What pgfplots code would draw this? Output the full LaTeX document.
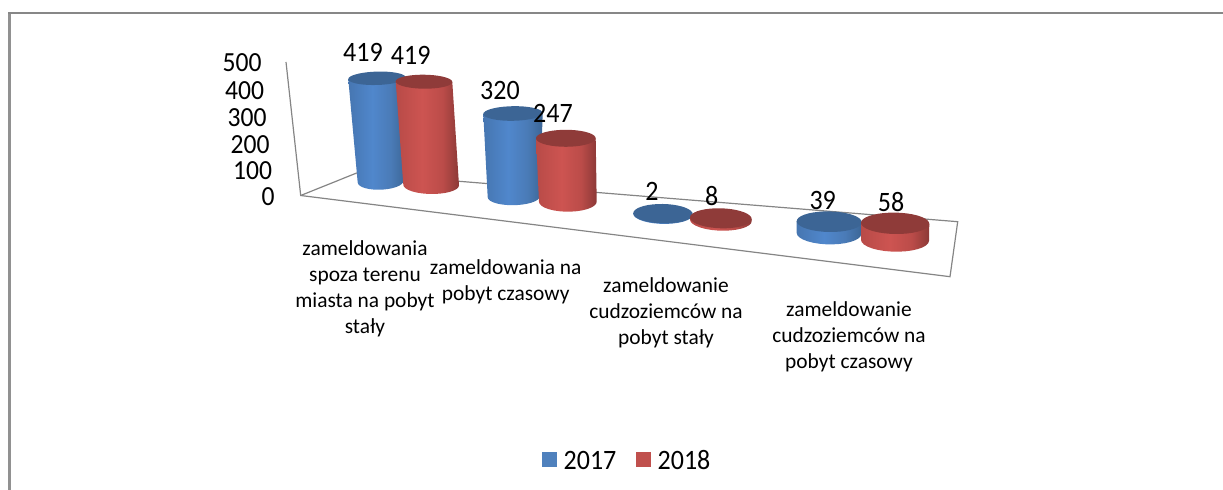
\documentclass[border=0pt]{standalone}
\usepackage{fontspec}
\setmainfont{Carlito}
\usepackage{pgfplots}
\pgfplotsset{compat=1.18}
\definecolor{legblue}{HTML}{4F81BD}
\definecolor{legred}{HTML}{C0504D}
\definecolor{topblue}{HTML}{3C6595}
\definecolor{topred}{HTML}{8F3B39}
\definecolor{bA}{HTML}{4676B1}
\definecolor{bB}{HTML}{5087CC}
\definecolor{bM}{HTML}{4A7BB7}
\definecolor{bC}{HTML}{3C6696}
\definecolor{rA}{HTML}{B84B48}
\definecolor{rB}{HTML}{CD5451}
\definecolor{rM}{HTML}{BB4C49}
\definecolor{rC}{HTML}{8C3937}
\pgfdeclarehorizontalshading{cylblue}{100bp}{color(0bp)=(bA); color(25bp)=(bA); color(46bp)=(bB); color(62bp)=(bM); color(75bp)=(bC); color(100bp)=(bC)}
\pgfdeclarehorizontalshading{cylred}{100bp}{color(0bp)=(rA); color(25bp)=(rA); color(46bp)=(rB); color(62bp)=(rM); color(75bp)=(rC); color(100bp)=(rC)}
\tikzset{
  bluebody/.style={draw=none,shading=cylblue},
  redbody/.style={draw=none,shading=cylred},
  bluetop/.style={draw=none,fill=topblue},
  redtop/.style={draw=none,fill=topred},
}
\newcommand\cylgeom[3]{\def\ryT{#1}\def\ryB{#2}\def\tilt{#3}}
% #1 colour name, #2 value, #3 px per unit, #4 base y, #5-#8 xs of top and bottom edges
\newcommand\cyl[8]{%
  \pgfmathsetmacro\yt{#4-#2*#3}%
  \pgfmathsetmacro\ytl{\yt-\tilt}%
  \pgfmathsetmacro\ytr{\yt+\tilt}%
  \pgfmathsetmacro\cb{(#7+#8)/2}%
  \pgfmathsetmacro\rb{(#8-#7)/2}%
  \pgfmathsetmacro\ct{(#5+#6)/2}%
  \pgfmathsetmacro\rt{(#6-#5)/2}%
  \xdef\pts{(#5,\ytl) (#6,\ytr)}%
  \foreach \t in {0,12,...,180}{%
    \pgfmathsetmacro\px{\cb+\rb*cos(\t)}%
    \pgfmathsetmacro\py{#4+\ryB*sin(\t)+\tilt*cos(\t)}%
    \xdef\pts{\pts (\px,\py)}}%
  \edef\doplot{\noexpand\addplot[#1body] coordinates {\pts} --cycle;}\doplot
  \xdef\pts{}%
  \foreach \t in {0,10,...,350}{%
    \pgfmathsetmacro\px{\ct+\rt*cos(\t)}%
    \pgfmathsetmacro\py{\yt+\ryT*sin(\t)+\tilt*cos(\t)}%
    \xdef\pts{\pts (\px,\py)}}%
  \edef\doplot{\noexpand\addplot[#1top] coordinates {\pts} --cycle;}\doplot
}
\begin{document}
\begin{tikzpicture}
\begin{axis}[
  scale only axis, width=611.5pt, height=245pt,
  xmin=0, xmax=1223, ymin=0, ymax=490, y dir=reverse,
  hide axis,
]
% picture extent
\addplot[draw=none] coordinates {(0,0) (1223,490)};
% frame
\addplot[color=black!40!white!95!black, line width=1.4pt] coordinates {(9.3,13) (9.3,490)};
\addplot[color=black!47, line width=0.85pt] coordinates {(8,13) (1223,13)};
% floor and wall lines
\addplot[color=black!48, line width=0.6pt] coordinates {(286,62) (300.7,195.5) (950,276.7) (957.7,221.7) (356.7,173) (300.7,195.5)};
% cylinders
\cylgeom{6.7}{8}{-0.8}
\cyl{blue}{419}{0.2468}{181.7}{348.3}{405.7}{357.7}{403.5}
\cylgeom{7}{9}{0.3}
\cyl{red}{419}{0.2465}{185}{395.7}{452.3}{403.3}{459}
\cylgeom{7.3}{8.5}{-0.5}
\cyl{blue}{320}{0.26}{196.7}{483.3}{542.7}{487.7}{540}
\cylgeom{8.5}{10}{0}
\cyl{red}{247}{0.2567}{201.7}{536}{595.7}{539}{596.7}
\cylgeom{9.7}{9.7}{0.5}
\cyl{blue}{2}{0.25}{214.2}{633.3}{692.7}{633.3}{692.7}
\cylgeom{10}{10.4}{0.8}
\cyl{red}{8}{0.25}{220.3}{690}{751.7}{690}{751.7}
\cylgeom{10.3}{11}{0.5}
\cyl{blue}{39}{0.3}{233.4}{796.7}{861.7}{796.7}{861.3}
\cylgeom{10.7}{11.4}{0.5}
\cyl{red}{58}{0.293}{240.3}{861}{929.3}{861}{929}
% legend swatches
\addplot[draw=none,fill=legblue] coordinates {(542,452) (557,452) (557,467) (542,467)} --cycle;
\addplot[draw=none,fill=legred] coordinates {(636,452) (651,452) (651,467) (636,467)} --cycle;
% tick labels
\begin{scope}[every node/.style={font=\fontsize{12.8}{14}\selectfont, inner sep=0pt, anchor=east, yscale=1.08}]
\node at (axis cs:262,63) {500};
\node at (axis cs:264.5,91) {400};
\node at (axis cs:267,118) {300};
\node at (axis cs:270,145) {200};
\node at (axis cs:272.5,171) {100};
\node at (axis cs:275,197) {0};
\end{scope}
% data labels
\begin{scope}[every node/.style={font=\fontsize{13}{15}\selectfont, inner sep=0pt, anchor=center, yscale=1.08}]
\node at (axis cs:363,52) {419};
\node at (axis cs:410.7,55) {419};
\node at (axis cs:500,90) {320};
\node at (axis cs:553,113) {247};
\node at (axis cs:652,191) {2};
\node at (axis cs:711.7,195.7) {8};
\node at (axis cs:822.7,200) {39};
\node at (axis cs:891,202) {58};
\node at (axis cs:590,460) {2017};
\node at (axis cs:684,460) {2018};
\end{scope}
% category labels
\begin{scope}[every node/.style={font=\fontsize{10.7}{13}\selectfont, inner sep=0pt, anchor=north, align=center}]
\node at (axis cs:365,240.5) {zameldowania\\spoza terenu\\miasta na pobyt\\stały};
\node at (axis cs:505.7,259) {zameldowania na\\pobyt czasowy};
\node at (axis cs:666,277) {zameldowanie\\cudzoziemców na\\pobyt stały};
\node at (axis cs:849,301) {zameldowanie\\cudzoziemców na\\pobyt czasowy};
\end{scope}
\end{axis}
\end{tikzpicture}
\end{document}
